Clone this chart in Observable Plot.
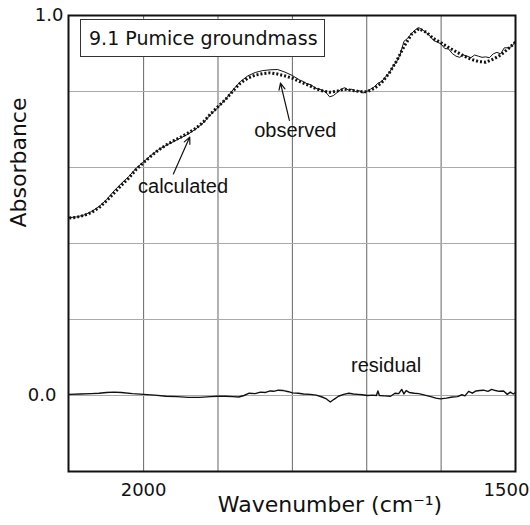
<!DOCTYPE html>
<html>
<head>
<meta charset="utf-8">
<script src="https://cdn.jsdelivr.net/npm/d3@7"></script>
<script src="https://cdn.jsdelivr.net/npm/@observablehq/plot@0.6"></script>
<style>
  html, body { margin: 0; padding: 0; background: white; }
  #wrap { position: relative; width: 530px; height: 525px; }
  #title {
    position: absolute; left: 80px; top: 19px; width: 243px; height: 36px;
    border: 1px solid #333; background: white; box-sizing: content-box;
    font-family: "DejaVu Sans", sans-serif; font-size: 19px; line-height: 36px;
    padding-left: 0; text-indent: 8px; white-space: nowrap; color: #111;
  }
</style>
</head>
<body>
<div id="wrap"><div id="title"></div></div>
<script>
const titleText = "9.1 Pumice groundmass";
const yLabel = ["Absorbance"];
const xLabel = ["Wavenumber (cm\u207B\u00B9)"];
const xTicksLeft = [2000];
const xTicksRight = [1500];
const yTickTop = [1.0];
const yTickZero = [0.0];
const xGrid = [2000, 1900, 1800, 1700, 1600];
const yGrid = [0.8, 0.6, 0.4, 0.2, 0.0];

// calculated spectrum (dotted)
const calcWavenumber = [2100,2090,2080,2070,2060,2050,2040,2030,2020,2010,2000,1990,1980,1970,1960,1950,1940,1930,1920,1910,1900,1890,1880,1870,1860,1850,1840,1830,1820,1810,1800,1790,1780,1770,1760,1750,1740,1730,1720,1710,1700,1690,1680,1670,1660,1650,1640,1630,1620,1610,1600,1590,1580,1570,1560,1550,1540,1530,1520,1510,1500];
const calcAbsorbance = [0.467,0.469,0.474,0.482,0.494,0.512,0.532,0.553,0.572,0.595,0.613,0.630,0.646,0.659,0.670,0.680,0.691,0.703,0.719,0.741,0.760,0.779,0.801,0.822,0.835,0.843,0.847,0.849,0.846,0.841,0.835,0.826,0.818,0.809,0.802,0.798,0.801,0.806,0.803,0.800,0.799,0.808,0.823,0.848,0.880,0.918,0.950,0.965,0.956,0.939,0.928,0.916,0.905,0.894,0.885,0.879,0.877,0.885,0.896,0.912,0.930];

// observed spectrum (solid)
const obsWavenumber = [2100,2090,2080,2070,2060,2050,2040,2030,2020,2010,2000,1990,1980,1970,1960,1950,1940,1930,1920,1910,1900,1890,1880,1870,1860,1850,1840,1830,1820,1810,1800,1795,1790,1785,1780,1775,1770,1765,1760,1755,1750,1745,1740,1735,1730,1725,1720,1715,1710,1705,1700,1695,1690,1685,1680,1675,1670,1665,1660,1655,1650,1645,1640,1635,1630,1625,1620,1615,1610,1605,1600,1595,1590,1585,1580,1575,1570,1565,1560,1555,1550,1545,1540,1535,1530,1525,1520,1515,1510,1505,1500];
const obsAbsorbance = [0.468,0.470,0.475,0.484,0.497,0.515,0.538,0.558,0.576,0.598,0.615,0.632,0.647,0.658,0.668,0.678,0.688,0.701,0.717,0.739,0.758,0.779,0.804,0.826,0.841,0.850,0.855,0.857,0.858,0.851,0.842,0.836,0.830,0.826,0.820,0.818,0.810,0.806,0.804,0.798,0.786,0.789,0.797,0.805,0.810,0.804,0.806,0.800,0.802,0.796,0.800,0.806,0.812,0.822,0.826,0.838,0.848,0.865,0.878,0.897,0.932,0.940,0.952,0.962,0.968,0.962,0.955,0.946,0.934,0.930,0.925,0.913,0.912,0.900,0.893,0.890,0.896,0.893,0.889,0.896,0.893,0.890,0.891,0.889,0.899,0.903,0.899,0.915,0.915,0.918,0.933];

// residual
const resWavenumber = [2100,2085,2070,2060,2050,2040,2030,2015,2000,1985,1970,1955,1940,1925,1910,1900,1890,1880,1872,1865,1858,1850,1843,1836,1830,1825,1819,1812,1805,1800,1792,1785,1776,1768,1760,1755,1749,1744,1738,1731,1724,1718,1712,1706,1699,1692,1687,1685,1683,1676,1668,1662,1657,1653,1650,1647,1643,1636,1630,1622,1614,1607,1601,1593,1585,1578,1572,1568,1563,1558,1553,1548,1543,1537,1532,1527,1522,1516,1511,1507,1503,1500];
const resAbsorbance = [0.003,0.004,0.005,0.006,0.008,0.009,0.008,0.005,0.003,0.001,-0.002,-0.003,-0.005,-0.005,-0.003,-0.002,-0.002,-0.003,-0.004,0.000,0.006,0.005,0.009,0.008,0.012,0.011,0.014,0.013,0.010,0.007,0.006,0.004,0.003,0.001,-0.004,-0.008,-0.017,-0.010,-0.002,0.003,0.006,0.004,0.003,0.002,0.000,0.001,0.000,0.012,0.000,-0.001,-0.002,0.006,0.005,0.016,0.004,0.013,0.008,0.006,0.005,0.001,-0.003,-0.007,-0.009,-0.007,-0.004,-0.003,0.002,-0.001,0.011,0.006,0.012,0.013,0.014,0.011,0.016,0.013,0.011,0.012,0.003,0.009,0.004,0.008];

// annotations (text anchor + arrow in data coordinates)
const labelText = ["observed", "calculated", "residual"];
const labelX = [1796, 1947, 1674];
const labelY = [0.696, 0.551, 0.080];
const arrowX1 = [1804, 1960];
const arrowY1 = [0.724, 0.583];
const arrowX2 = [1816, 1938];
const arrowY2 = [0.822, 0.680];

document.getElementById("title").textContent = titleText;

const calc = calcWavenumber.map((w, i) => ({w, a: calcAbsorbance[i]}));
const obs = obsWavenumber.map((w, i) => ({w, a: obsAbsorbance[i]}));
const res = resWavenumber.map((w, i) => ({w, a: resAbsorbance[i]}));
const labels = labelText.map((t, i) => ({t, x: labelX[i], y: labelY[i]}));
const arrows = arrowX1.map((x1, i) => ({x1, y1: arrowY1[i], x2: arrowX2[i], y2: arrowY2[i]}));

const chart = Plot.plot({
  width: 530,
  height: 525,
  marginLeft: 68,
  marginRight: 15,
  marginTop: 15,
  marginBottom: 54,
  style: {fontFamily: "DejaVu Sans, sans-serif", fontSize: "18px", background: "white", color: "#111", overflow: "visible"},
  x: {domain: [2101, 1500], axis: null},
  y: {domain: [-0.2, 1.0], axis: null},
  marks: [
    Plot.gridX(xGrid, {stroke: "#666", strokeOpacity: 1, strokeWidth: 1}),
    Plot.gridY(yGrid, {stroke: "#aaa", strokeOpacity: 1, strokeWidth: 1}),
    Plot.line(res, {x: "w", y: "a", stroke: "#111", strokeWidth: 1.4}),
    Plot.line(obs, {x: "w", y: "a", stroke: "#111", strokeWidth: 1}),
    Plot.line(calc, {x: "w", y: "a", stroke: "#111", strokeWidth: 3, strokeDasharray: "2 2", strokeLinecap: "butt", strokeLinejoin: "miter"}),
    Plot.arrow(arrows, {x1: "x1", y1: "y1", x2: "x2", y2: "y2", stroke: "#111", strokeWidth: 1.2, headLength: 9, headAngle: 50, bend: 0}),
    Plot.text(labels, {x: "x", y: "y", text: "t", fontFamily: "Liberation Sans, Arial, sans-serif", fontSize: 20, fill: "#111"}),
    Plot.frame({stroke: "#111", strokeWidth: 2}),
    Plot.axisX(xTicksLeft, {tickSize: 0, tickPadding: 12, fontSize: 18, tickFormat: d => String(d), label: null}),
    Plot.axisX(xTicksRight, {tickSize: 0, tickPadding: 12, fontSize: 18, dx: -9, tickFormat: d => String(d), label: null}),
    Plot.axisY(yTickTop, {tickSize: 0, tickPadding: 5, fontSize: 18, tickFormat: d => d.toFixed(1), label: null}),
    Plot.axisY(yTickZero, {tickSize: 0, tickPadding: 12, fontSize: 18, tickFormat: d => d.toFixed(1), label: null}),
    Plot.text(xLabel, {frameAnchor: "bottom", dx: 38, dy: 40, fontSize: 22, fill: "#111"}),
    Plot.text(yLabel, {frameAnchor: "left", rotate: -90, dx: -50, dy: -16, fontSize: 22, fill: "#111"})
  ]
});
document.getElementById("wrap").prepend(chart);
chart.style.position = "absolute";
chart.style.left = "0";
chart.style.top = "0";
</script>
</body>
</html>
